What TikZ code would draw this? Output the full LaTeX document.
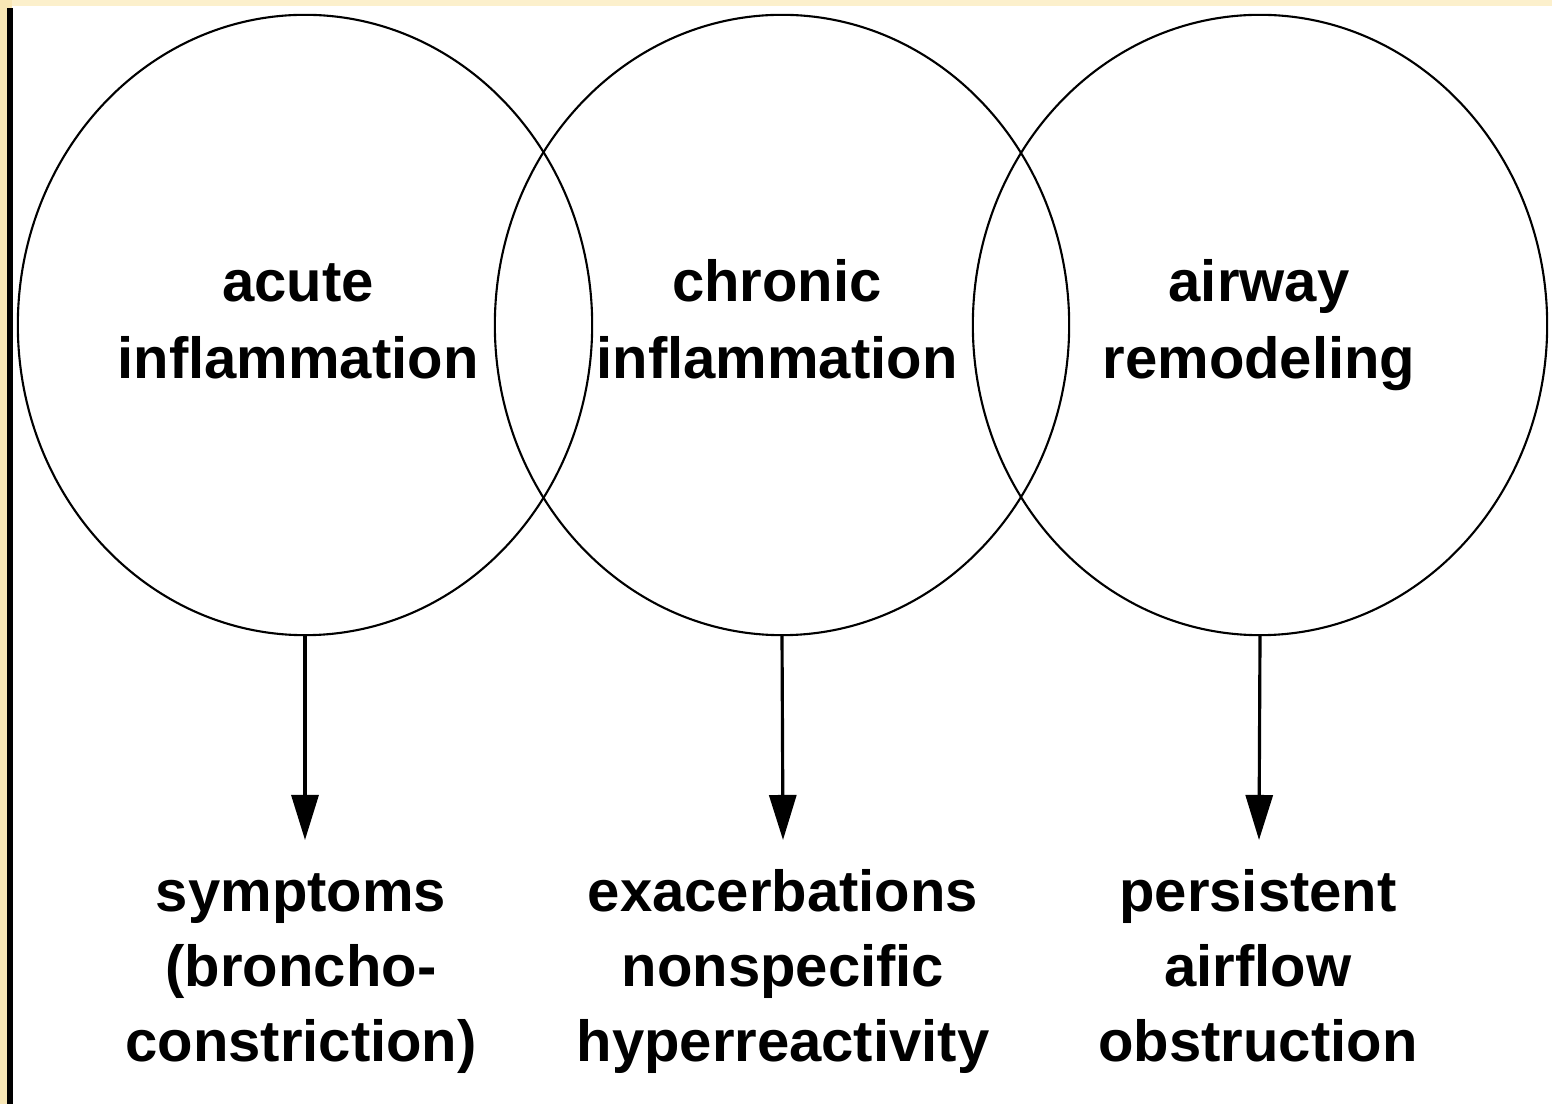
\documentclass[tikz,border=0pt]{standalone}
\usepackage{fontspec}
\setmainfont{Liberation Sans}
\usetikzlibrary{arrows.meta,shapes.geometric}
\definecolor{bgyellow}{HTML}{F8E7B6}
\definecolor{topyellow}{HTML}{FCF0CC}
\tikzset{
  ring/.style={ellipse, draw=black, line width=0.6pt, minimum width=5.74cm, minimum height=6.2cm, inner sep=0pt},
  toplabel/.style={font=\bfseries\fontsize{16.5}{21.9}\selectfont, align=center, inner sep=0pt, anchor=base},
  botlabel/.style={font=\bfseries\fontsize{16.5}{21.3}\selectfont, align=center, inner sep=0pt, anchor=base},
  arr/.style={line width=0.9pt, -{Triangle[width=0.27cm,length=0.45cm]}}
}
\begin{document}
\begin{tikzpicture}[x=0.01cm,y=-0.01cm]
\useasboundingbox (0,0) rectangle (1552,1104);
\fill[bgyellow] (0,0) rectangle (1552,1104);
\fill[topyellow] (12,0) rectangle (1552,6);
\fill[white] (12,6) rectangle (1552,1104);
\draw[line width=1.6pt] (10,8) -- (10,1104);
\node[ring] (c1) at (305,325) {};
\node[ring] (c2) at (782,325) {};
\node[ring] (c3) at (1260,325) {};
\node[toplabel] (t1) at (298,379) {acute\\inflammation};
\node[toplabel] (t2) at (777,379) {chronic\\inflammation};
\node[toplabel] (t3) at (1259,379) {airway\\remodeling};
\node[botlabel] (b1) at (301,1061) {symptoms\\(broncho-\\constriction)};
\node[botlabel] (b2) at (783,1061) {exacerbations\\nonspecific\\hyperreactivity};
\node[botlabel] (b3) at (1258,1061) {persistent\\airflow\\obstruction};
\coordinate (e1) at (305,840);
\coordinate (e2) at (783,840);
\coordinate (e3) at (1259,840);
\draw[arr] (c1.south) -- (e1);
\draw[arr] (c2.south) -- (e2);
\draw[arr] (c3.south) -- (e3);
\end{tikzpicture}
\end{document}
